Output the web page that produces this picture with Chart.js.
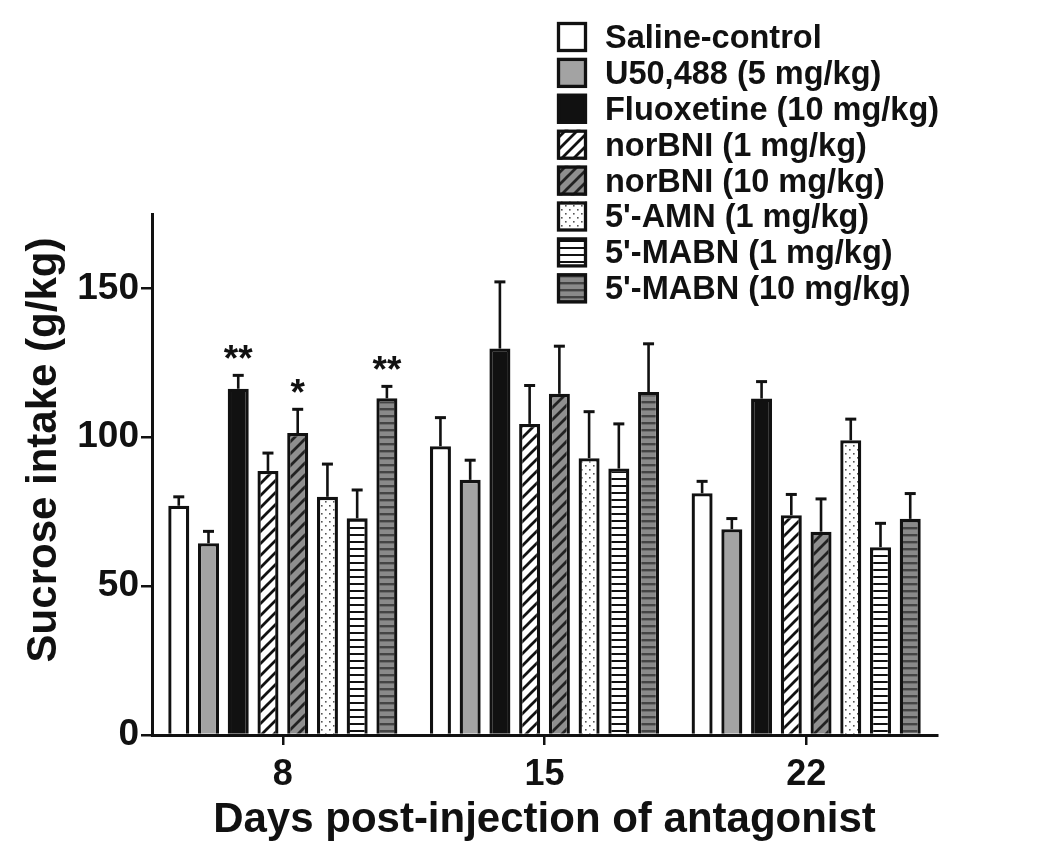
<!DOCTYPE html>
<html>
<head>
<meta charset="utf-8">
<script src="https://cdn.jsdelivr.net/npm/chart.js@4.4.1/dist/chart.umd.min.js"></script>
<style>
html,body{margin:0;padding:0;background:#fff;}
canvas{display:block;}
</style>
</head>
<body>
<canvas id="c" width="1050" height="863"></canvas>
<script>
// ---- data ----
const categories = ['8', '15', '22'];
const seriesLabels = ['Saline-control', 'U50,488 (5 mg/kg)', 'Fluoxetine (10 mg/kg)', 'norBNI (1 mg/kg)', 'norBNI (10 mg/kg)', "5'-AMN (1 mg/kg)", "5'-MABN (1 mg/kg)", "5'-MABN (10 mg/kg)"];
const saline = [77, 97, 81.2];
const salineErr = [3, 9.6, 4];
const u50488 = [64.4, 85.7, 69.1];
const u50488Err = [4, 6.6, 3.6];
const fluoxetine = [116.3, 129.8, 113];
const fluoxetineErr = [4.5, 22.4, 5.7];
const norBNI1 = [88.7, 104.5, 73.8];
const norBNI1Err = [6, 12.9, 7];
const norBNI10 = [101.4, 114.6, 68.3];
const norBNI10Err = [8, 16, 11];
const amn1 = [80, 93, 99];
const amn1Err = [11, 15.6, 7.1];
const mabn1 = [72.8, 89.5, 63.1];
const mabn1Err = [9.5, 15, 8];
const mabn10 = [113.1, 115.2, 72.6];
const mabn10Err = [4, 16.2, 8.5];
const yTicks = [0, 50, 100, 150];
const yTitle = 'Sucrose intake (g/kg)';
const xTitle = 'Days post-injection of antagonist';
// significance marks: [series index, category index, text]
const stars = [[2, 0, '**'], [4, 0, '*'], [7, 0, '**']];

const FONT = '"Liberation Sans", Arial, Helvetica, sans-serif';
const INK = '#111';

// ---- patterns ----
function tile(w, h, draw) {
  const c = document.createElement('canvas');
  c.width = w; c.height = h;
  const g = c.getContext('2d');
  draw(g, w, h);
  return document.getElementById('c').getContext('2d').createPattern(c, 'repeat');
}
function hatch(bg, fg) {
  return tile(12, 12, (g, w, h) => {
    g.fillStyle = bg; g.fillRect(0, 0, w, h);
    g.strokeStyle = fg; g.lineWidth = 2.8; g.lineCap = 'square';
    for (const o of [-12, 0, 12]) {
      g.beginPath(); g.moveTo(o, h); g.lineTo(o + w, 0); g.stroke();
    }
  });
}
function dots(bg, fg) {
  return tile(8, 8, (g, w, h) => {
    g.fillStyle = bg; g.fillRect(0, 0, w, h);
    g.fillStyle = fg;
    g.fillRect(1, 1, 1.6, 1.6);
    g.fillRect(5, 5, 1.6, 1.6);
  });
}
function hstripes(bg, fg, lw) {
  return tile(4, 7, (g, w, h) => {
    g.fillStyle = bg; g.fillRect(0, 0, w, h);
    g.fillStyle = fg; g.fillRect(0, 2, w, lw);
  });
}

const fills = [
  '#ffffff',
  '#a3a3a3',
  '#111111',
  hatch('#ffffff', '#111'),
  hatch('#8f8f8f', '#222'),
  dots('#ffffff', '#555'),
  hstripes('#ffffff', '#111', 2),
  hstripes('#8a8a8a', '#444', 2.4)
];
const values = [saline, u50488, fluoxetine, norBNI1, norBNI10, amn1, mabn1, mabn10];
const errors = [salineErr, u50488Err, fluoxetineErr, norBNI1Err, norBNI10Err, amn1Err, mabn1Err, mabn10Err];

const datasets = seriesLabels.map((lab, i) => ({
  label: lab,
  data: values[i],
  errors: errors[i],
  backgroundColor: fills[i],
  borderColor: INK,
  borderWidth: 3.3,
  borderSkipped: 'start',
  categoryPercentage: 0.909,
  barPercentage: 0.707
}));

// ---- plugins ----
const errorBars = {
  id: 'errorBars',
  afterDatasetsDraw(chart) {
    const ctx = chart.ctx, y = chart.scales.y;
    ctx.save();
    ctx.strokeStyle = INK;
    ctx.lineCap = 'butt';
    chart.data.datasets.forEach((ds, di) => {
      const meta = chart.getDatasetMeta(di);
      meta.data.forEach((bar, j) => {
        const top = y.getPixelForValue(ds.data[j]);
        const et = y.getPixelForValue(ds.data[j] + ds.errors[j]);
        ctx.lineWidth = 2.6;
        ctx.beginPath(); ctx.moveTo(bar.x, top); ctx.lineTo(bar.x, et); ctx.stroke();
        ctx.lineWidth = 3;
        ctx.beginPath(); ctx.moveTo(bar.x - 5.5, et); ctx.lineTo(bar.x + 5.5, et); ctx.stroke();
      });
    });
    ctx.fillStyle = INK;
    ctx.font = 'bold 37px ' + FONT;
    ctx.textAlign = 'center';
    ctx.textBaseline = 'alphabetic';
    stars.forEach(([si, ci, txt]) => {
      const ds = chart.data.datasets[si];
      const bar = chart.getDatasetMeta(si).data[ci];
      const et = y.getPixelForValue(ds.data[ci] + ds.errors[ci]);
      ctx.fillText(txt, bar.x, et - 4);
    });
    ctx.restore();
  }
};

const titleY = {
  id: 'titleY',
  afterDraw(chart) {
    const ctx = chart.ctx;
    ctx.save();
    ctx.translate(44, 450);
    ctx.rotate(-Math.PI / 2);
    ctx.font = 'bold 42px ' + FONT;
    ctx.fillStyle = INK;
    ctx.textAlign = 'center';
    ctx.textBaseline = 'middle';
    ctx.fillText(yTitle, 0, 0);
    ctx.restore();
  }
};

const legendBox = {
  id: 'legendBox',
  afterDraw(chart) {
    const ctx = chart.ctx;
    ctx.save();
    const x0 = 557, y0 = 22, step = 35.9, sz = 30;
    ctx.font = 'bold 32.5px ' + FONT;
    ctx.textBaseline = 'middle';
    ctx.textAlign = 'left';
    chart.data.datasets.forEach((ds, i) => {
      const yy = y0 + i * step;
      ctx.fillStyle = ds.backgroundColor;
      ctx.fillRect(x0, yy, sz, sz);
      ctx.strokeStyle = INK; ctx.lineWidth = 3.3;
      ctx.strokeRect(x0 + 1.5, yy + 1.5, sz - 3, sz - 3);
      ctx.fillStyle = INK;
      ctx.fillText(ds.label, 605, yy + 17);
    });
    ctx.restore();
  }
};

new Chart(document.getElementById('c'), {
  type: 'bar',
  data: { labels: categories, datasets },
  plugins: [errorBars, legendBox, titleY],
  options: {
    responsive: false,
    animation: false,
    layout: { padding: { top: 214, right: 113, bottom: 0, left: 0 } },
    plugins: { legend: { display: false }, tooltip: { enabled: false } },
    scales: {
      x: {
        grid: { display: true, drawOnChartArea: false, drawTicks: true, tickLength: 10, offset: false, color: INK, lineWidth: 2.5 },
        border: { display: true, color: INK, width: 3 },
        ticks: { color: INK, padding: 8, font: { family: FONT, size: 36, weight: 'bold' } },
        title: { display: true, text: xTitle, color: INK,
          font: { family: FONT, size: 42, weight: 'bold', lineHeight: 1 }, padding: { top: 0, bottom: 22 } },
        afterFit(s) { s.height = 128; }
      },
      y: {
        min: 0, max: 175,
        afterBuildTicks(s) { s.ticks = yTicks.map(v => ({ value: v })); },
        grid: { display: true, drawOnChartArea: false, drawTicks: true, tickLength: 11, color: INK, lineWidth: 2.5 },
        border: { display: true, color: INK, width: 3 },
        ticks: { color: INK, padding: 2, font: { family: FONT, size: 37, weight: 'bold' } },
        title: { display: false, text: yTitle },
        afterFit(s) { s.width = 152; }
      }
    }
  }
});
</script>
</body>
</html>
